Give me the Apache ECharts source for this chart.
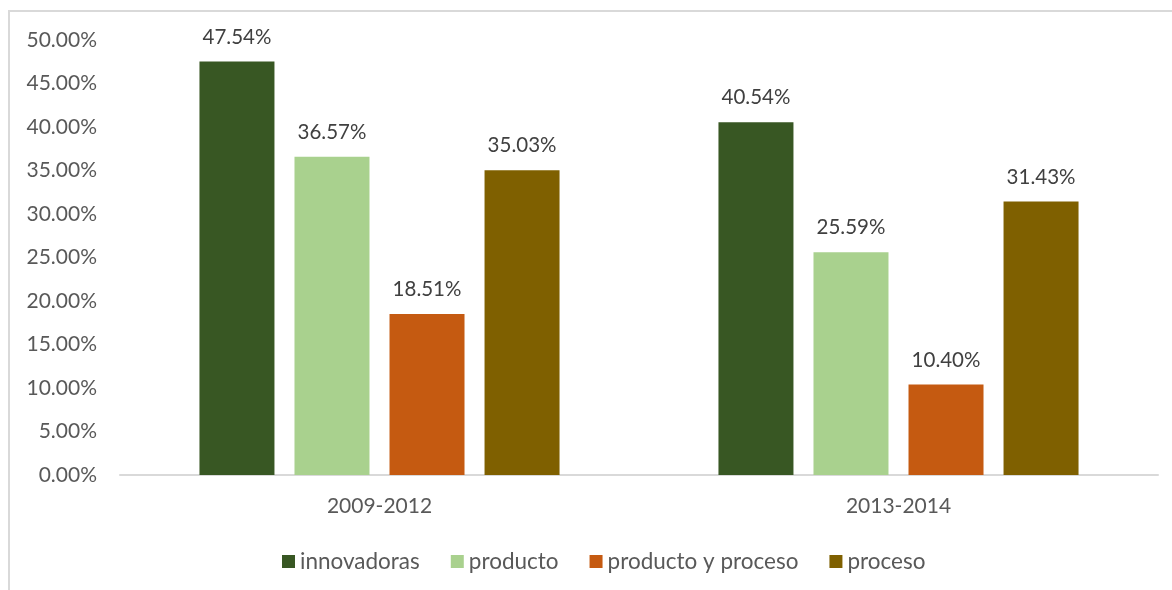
<!DOCTYPE html>
<html>
<head>
<meta charset="utf-8">
<script src="https://cdn.jsdelivr.net/npm/echarts@6/dist/echarts.min.js"></script>
<style>
  html, body { margin: 0; padding: 0; background: #fff; }
  #chart { width: 1172px; height: 590px; }
</style>
</head>
<body>
<div id="chart"></div>
<script>
// Share of firms by innovation type, per period
const categories = ['2009-2012', '2013-2014'];
const seriesNames = ['innovadoras', 'producto', 'producto y proceso', 'proceso'];
const innovadoras = [47.54, 40.54];
const producto = [36.57, 25.59];
const productoYProceso = [18.51, 10.40];
const proceso = [35.03, 31.43];
const seriesColors = ['#385723', '#A9D18E', '#C55A11', '#7F6000'];

const FONT = 'Lato';
const values = [innovadoras, producto, productoYProceso, proceso];

const chart = echarts.init(document.getElementById('chart'), null, { renderer: 'canvas' });

chart.setOption({
  animation: false,
  backgroundColor: '#ffffff',
  textStyle: { fontFamily: FONT },
  graphic: [{
    type: 'rect',
    shape: { x: 9, y: 11, width: 1200, height: 700 },
    style: { fill: 'none', stroke: '#D9D9D9', lineWidth: 2 },
    silent: true
  }],
  grid: { left: 120, right: 14, top: 40, bottom: 115 },
  legend: {
    top: 545,
    left: 277,
    padding: 5,
    itemWidth: 13,
    itemHeight: 13,
    itemGap: 31,
    icon: 'rect',
    textStyle: { color: '#595959', fontSize: 22.5, fontFamily: FONT, padding: [0, 0, 0, 0] },
    data: seriesNames
  },
  xAxis: {
    type: 'category',
    data: categories,
    axisLine: { show: true, lineStyle: { color: '#D9D9D9', width: 2 } },
    axisTick: { show: false },
    axisLabel: { color: '#595959', fontSize: 21, fontFamily: FONT, margin: 21 }
  },
  yAxis: {
    type: 'value',
    min: 0,
    max: 50,
    interval: 5,
    splitLine: { show: false },
    axisLine: { show: false },
    axisTick: { show: false },
    axisLabel: {
      color: '#595959',
      fontSize: 21,
      fontFamily: FONT,
      margin: 23,
      formatter: v => v.toFixed(2) + '%'
    }
  },
  series: seriesNames.map((name, i) => ({
    name: name,
    type: 'bar',
    data: values[i],
    barWidth: 75,
    barGap: '26.7%',
    itemStyle: { color: seriesColors[i] },
    label: {
      show: true,
      position: 'top',
      distance: 14,
      color: '#404040',
      fontSize: 20.5,
      fontFamily: FONT,
      formatter: p => p.value.toFixed(2) + '%'
    }
  }))
});
</script>
</body>
</html>
